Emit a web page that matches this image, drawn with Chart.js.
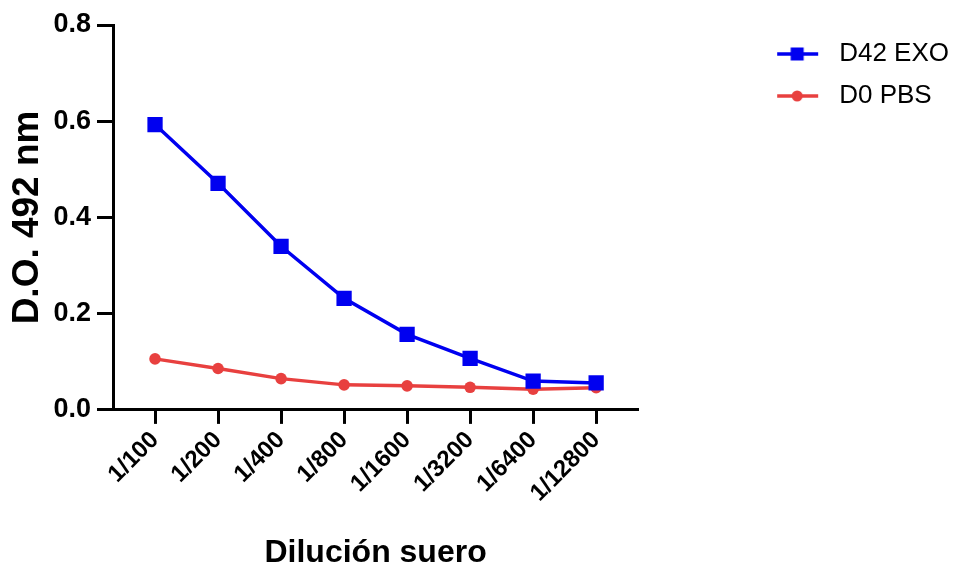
<!DOCTYPE html>
<html>
<head>
<meta charset="utf-8">
<script src="https://cdn.jsdelivr.net/npm/chart.js@4/dist/chart.umd.min.js"></script>
<style>
  html, body { margin: 0; padding: 0; background: #ffffff; }
  #wrap { width: 976px; height: 575px; }
</style>
</head>
<body>
<div id="wrap"><canvas id="c" width="976" height="575"></canvas></div>
<script>
// ---- data ----
const categories = ["1/100", "1/200", "1/400", "1/800", "1/1600", "1/3200", "1/6400", "1/12800"];
const seriesNames = ["D42 EXO", "D0 PBS"];
const d42Exo = [0.593, 0.471, 0.340, 0.232, 0.157, 0.107, 0.060, 0.056];
const d0Pbs = [0.106, 0.086, 0.065, 0.052, 0.050, 0.047, 0.043, 0.046];
const yTicks = [0.0, 0.2, 0.4, 0.6, 0.8];

const BLUE = '#0000f0';
const RED = '#e8403f';
const FONT = "'Liberation Sans', Arial, Helvetica, sans-serif";

function toPoints(arr) { return arr.map((v, i) => ({ x: i, y: v })); }

function legendIcon(color, shape) {
  const c = document.createElement('canvas');
  c.width = 172; c.height = 20;
  const g = c.getContext('2d');
  g.strokeStyle = color; g.fillStyle = color; g.lineWidth = 3.5;
  g.beginPath(); g.moveTo(123, 10); g.lineTo(164, 10); g.stroke();
  if (shape === 'rect') {
    g.fillRect(143 - 6.5, 10 - 6.5, 13, 13);
  } else {
    g.beginPath(); g.arc(143, 10, 5.5, 0, Math.PI * 2); g.fill();
  }
  return c;
}
const legendIcons = [legendIcon(BLUE, 'rect'), legendIcon(RED, 'circle')];

new Chart(document.getElementById('c'), {
  type: 'line',
  data: {
    datasets: [
      {
        label: seriesNames[0],
        data: toPoints(d42Exo),
        borderColor: BLUE, backgroundColor: BLUE,
        borderWidth: 3.5, tension: 0,
        pointStyle: 'rect', pointRadius: 10.8, pointBorderWidth: 0,
        pointBackgroundColor: BLUE
      },
      {
        label: seriesNames[1],
        data: toPoints(d0Pbs),
        borderColor: RED, backgroundColor: RED,
        borderWidth: 3.5, tension: 0,
        pointStyle: 'circle', pointRadius: 5.8, pointBorderWidth: 0,
        pointBackgroundColor: RED
      }
    ]
  },
  options: {
    responsive: false,
    animation: false,
    devicePixelRatio: 1,
    layout: { padding: { top: 25, left: 0, right: 17, bottom: 3 } },
    plugins: {
      tooltip: { enabled: false },
      legend: {
        position: 'right',
        align: 'start',
        fullSize: false,
        maxWidth: 500,
        labels: {
          usePointStyle: true,
          pointStyleWidth: 172,
          padding: 16,
          color: '#000',
          font: { family: FONT, size: 26 },
          generateLabels(chart) {
            const items = Chart.defaults.plugins.legend.labels.generateLabels(chart);
            items.forEach((it, i) => { it.pointStyle = legendIcons[i]; it.fontColor = '#000'; });
            return items;
          }
        }
      }
    },
    scales: {
      x: {
        type: 'linear',
        min: -0.667,
        max: 7.667,
        afterBuildTicks(axis) { axis.ticks = categories.map((_, i) => ({ value: i })); },
        grid: { display: true, drawOnChartArea: false, drawTicks: true, tickLength: 14, tickWidth: 3, tickColor: '#000' },
        border: { display: true, color: '#000', width: 3 },
        ticks: {
          autoSkip: false, minRotation: 45, maxRotation: 45, padding: 2,
          color: '#000', font: { family: FONT, size: 24, weight: 'bold' },
          callback(v) { return categories[v]; }
        },
        title: {
          display: true, text: 'Dilución suero', color: '#000',
          font: { family: FONT, size: 32, weight: 'bold' },
          padding: { top: 24, bottom: 0 }
        }
      },
      y: {
        min: 0, max: 0.8,
        afterBuildTicks(axis) { axis.ticks = yTicks.map(v => ({ value: v })); },
        afterFit(scale) { scale.width = 113; },
        grid: { display: true, drawOnChartArea: false, drawTicks: true, tickLength: 16, tickWidth: 3, tickColor: '#000' },
        border: { display: true, color: '#000', width: 3 },
        ticks: {
          padding: 6, color: '#000',
          font: { family: FONT, size: 27, weight: 'bold' },
          callback(v) { return Number(v).toFixed(1); }
        },
        title: {
          display: true, text: 'D.O. 492 nm', color: '#000',
          font: { family: FONT, size: 37, weight: 'bold' },
          padding: { top: 6, bottom: 0 }
        }
      }
    }
  }
});
</script>
</body>
</html>
